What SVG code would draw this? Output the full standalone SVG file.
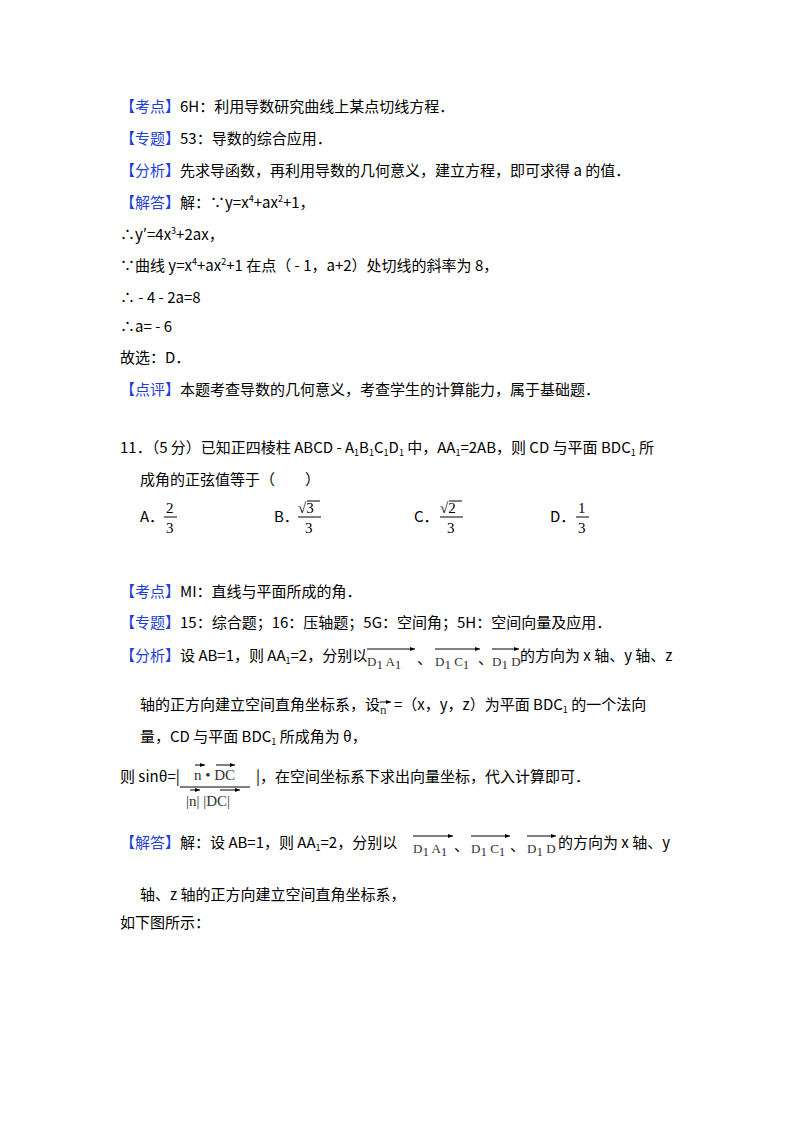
<svg xmlns="http://www.w3.org/2000/svg" width="800" height="1132" viewBox="0 0 800 1132">
<style>
text{font-family:"Noto Sans CJK SC","Liberation Sans",sans-serif;font-size:15px;fill:#000}
.b{fill:#1f3fd6}
.s{font-size:9px}
.v{font-family:"Liberation Serif",serif;font-size:13px;fill:#333}
.f{font-family:"Liberation Serif",serif;font-size:15px}
.ln{stroke:#000;stroke-width:1}
</style>
<defs><marker id="ah" markerWidth="6" markerHeight="6" refX="5" refY="3" orient="auto"><path d="M0,1 L5,3 L0,5z" fill="#000"/></marker></defs>
<rect width="800" height="1132" fill="#fff"/>
<g id="text">
<text x="120" y="112"><tspan class="b">【考点】</tspan>6H：利用导数研究曲线上某点切线方程．</text>
<text x="120" y="144"><tspan class="b">【专题】</tspan>53：导数的综合应用．</text>
<text x="120" y="176"><tspan class="b">【分析】</tspan>先求导函数，再利用导数的几何意义，建立方程，即可求得 a 的值．</text>
<text x="120" y="208"><tspan class="b">【解答】</tspan>解：∵y=x<tspan class="s" dy="-6">4</tspan><tspan dy="6">+ax</tspan><tspan class="s" dy="-6">2</tspan><tspan dy="6">+1，</tspan></text>
<text x="120" y="240">∴y′=4x<tspan class="s" dy="-6">3</tspan><tspan dy="6">+2ax，</tspan></text>
<text x="120" y="271">∵曲线 y=x<tspan class="s" dy="-6">4</tspan><tspan dy="6">+ax</tspan><tspan class="s" dy="-6">2</tspan><tspan dy="6">+1 在点（ - 1，a+2）处切线的斜率为 8，</tspan></text>
<text x="120" y="303">∴ - 4 - 2a=8</text>
<text x="120" y="332">∴a= - 6</text>
<text x="120" y="363">故选：D．</text>
<text x="120" y="395"><tspan class="b">【点评】</tspan>本题考查导数的几何意义，考查学生的计算能力，属于基础题．</text>
<text x="120" y="453">11．（5 分）已知正四棱柱 ABCD - A<tspan class="s" dy="3">1</tspan><tspan dy="-3">B</tspan><tspan class="s" dy="3">1</tspan><tspan dy="-3">C</tspan><tspan class="s" dy="3">1</tspan><tspan dy="-3">D</tspan><tspan class="s" dy="3">1</tspan><tspan dy="-3"> 中，AA</tspan><tspan class="s" dy="3">1</tspan><tspan dy="-3">=2AB，则 CD 与平面 BDC</tspan><tspan class="s" dy="3">1</tspan><tspan dy="-3"> 所</tspan></text>
<text x="140" y="485">成角的正弦值等于（　　）</text>
<text x="140" y="522">A．</text>
<text x="166" y="513" class="f">2</text><line class="ln" x1="164" y1="517" x2="177" y2="517"/><text x="166" y="533" class="f">3</text>
<text x="274" y="522">B．</text>
<text x="298" y="513" class="f">√3</text><line class="ln" x1="307" y1="501" x2="320" y2="501"/><line class="ln" x1="298" y1="517" x2="321" y2="517"/><text x="305" y="533" class="f">3</text>
<text x="414" y="522">C．</text>
<text x="440" y="513" class="f">√2</text><line class="ln" x1="449" y1="501" x2="462" y2="501"/><line class="ln" x1="440" y1="517" x2="463" y2="517"/><text x="447" y="533" class="f">3</text>
<text x="550" y="522">D．</text>
<text x="578" y="513" class="f">1</text><line class="ln" x1="576" y1="517" x2="589" y2="517"/><text x="578" y="533" class="f">3</text>
<text x="120" y="597"><tspan class="b">【考点】</tspan>MI：直线与平面所成的角．</text>
<text x="120" y="628"><tspan class="b">【专题】</tspan>15：综合题；16：压轴题；5G：空间角；5H：空间向量及应用．</text>
<text x="120" y="661"><tspan class="b">【分析】</tspan>设 AB=1，则 AA<tspan class="s" dy="3">1</tspan><tspan dy="-3">=2，分别以</tspan></text>
<text x="417" y="664">、</text><text x="478" y="664">、</text>
<text x="520" y="661">的方向为 x 轴、y 轴、z</text>
<text x="140" y="710">轴的正方向建立空间直角坐标系，设</text>
<text x="394" y="710">=（x，y，z）为平面 BDC<tspan class="s" dy="3">1</tspan><tspan dy="-3"> 的一个法向</tspan></text>
<text x="140" y="742">量，CD 与平面 BDC<tspan class="s" dy="3">1</tspan><tspan dy="-3"> 所成角为 θ，</tspan></text>
<text x="120" y="782">则 sinθ=|</text>
<text x="256" y="782">|，在空间坐标系下求出向量坐标，代入计算即可．</text>
<text x="120" y="848"><tspan class="b">【解答】</tspan>解：设 AB=1，则 AA<tspan class="s" dy="3">1</tspan><tspan dy="-3">=2，分别以</tspan></text>
<text x="454" y="851">、</text><text x="510" y="851">、</text>
<text x="558" y="848">的方向为 x 轴、y</text>
<text x="140" y="900">轴、z 轴的正方向建立空间直角坐标系，</text>
<text x="120" y="928">如下图所示：</text>
</g>
<g id="vectors">
<text x="367" y="666" class="v">D<tspan dy="3">1</tspan><tspan dy="-3"> A</tspan><tspan dy="3">1</tspan></text>
<text x="435" y="666" class="v">D<tspan dy="3">1</tspan><tspan dy="-3"> C</tspan><tspan dy="3">1</tspan></text>
<text x="492" y="666" class="v">D<tspan dy="3">1</tspan><tspan dy="-3"> D</tspan></text>
<text x="380" y="714" class="v">n</text>
<text x="194" y="780" class="v" style="font-size:15px">n • DC</text>
<text x="186" y="806" class="v" style="font-size:15px">|n| |DC|</text>
<text x="413" y="853" class="v">D<tspan dy="3">1</tspan><tspan dy="-3"> A</tspan><tspan dy="3">1</tspan></text>
<text x="471" y="853" class="v">D<tspan dy="3">1</tspan><tspan dy="-3"> C</tspan><tspan dy="3">1</tspan></text>
<text x="527" y="853" class="v">D<tspan dy="3">1</tspan><tspan dy="-3"> D</tspan></text>
</g>
<g id="connectors" stroke="#000" stroke-width="1" marker-end="url(#ah)">
<line x1="367" y1="649" x2="415" y2="649"/>
<line x1="435" y1="649" x2="480" y2="649"/>
<line x1="492" y1="649" x2="519" y2="649"/>
<line x1="380" y1="702" x2="391" y2="702"/>
<line x1="195" y1="765" x2="205" y2="765"/>
<line x1="216" y1="765" x2="235" y2="765"/>
<line x1="190" y1="790" x2="200" y2="790"/>
<line x1="220" y1="790" x2="240" y2="790"/>
<line x1="413" y1="836" x2="453" y2="836"/>
<line x1="471" y1="836" x2="510" y2="836"/>
<line x1="527" y1="836" x2="556" y2="836"/>
</g>
<line class="ln" x1="180" y1="787" x2="250" y2="787"/>
</svg>
